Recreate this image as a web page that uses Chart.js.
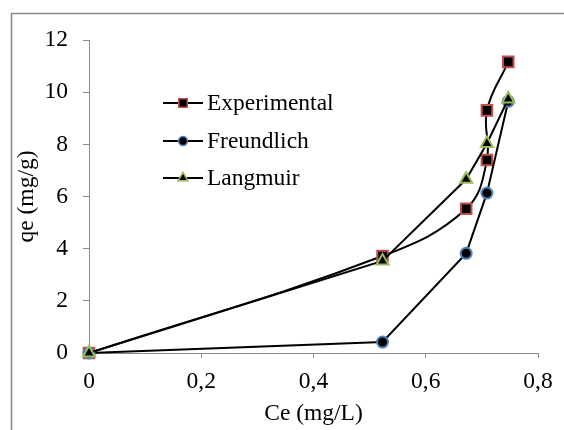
<!DOCTYPE html>
<html>
<head>
<meta charset="utf-8">
<script src="https://cdn.jsdelivr.net/npm/chart.js@4.4.0/dist/chart.umd.min.js"></script>
<style>
  html, body { margin: 0; padding: 0; background: #ffffff; }
  #wrap { width: 564px; height: 430px; position: relative; }
</style>
</head>
<body>
<div id="wrap"><canvas id="c" width="564" height="430"></canvas></div>
<script>
// ---- data ----
const seriesNames = ['Experimental', 'Freundlich', 'Langmuir'];
const expX = [0, 0.523, 0.672, 0.709, 0.709, 0.747];
const expY = [0, 3.72, 5.53, 7.40, 9.30, 11.16];
const freX = [0, 0.523, 0.672, 0.709, 0.747];
const freY = [0, 0.42, 3.82, 6.13, 9.65];
const lanX = [0, 0.523, 0.672, 0.709, 0.747];
const lanY = [0, 3.53, 6.66, 8.03, 9.74];
const xTickValues = [0, 0.2, 0.4, 0.6, 0.8];
const xTickLabels = ['0', '0,2', '0,4', '0,6', '0,8'];
const yTickValues = [0, 2, 4, 6, 8, 10, 12];
const yTickLabels = ['0', '2', '4', '6', '8', '10', '12'];
const xTitle = 'Ce (mg/L)';
const yTitle = 'qe (mg/g)';

const toPts = (xs, ys) => xs.map((x, i) => ({ x: x, y: ys[i] }));

const FONT = 'Liberation Serif, Times New Roman, serif';
const FSIZE = 23.5;
const styles = [
  { border: '#C0504D', pointStyle: 'rect', radius: 7.5, tension: 0.4 },
  { border: '#4F81BD', pointStyle: 'circle', radius: 5.5, tension: 0 },
  { border: '#9BBB59', pointStyle: 'triangle', radius: 7, tension: 0 }
];
const dataSets = [toPts(expX, expY), toPts(freX, freY), toPts(lanX, lanY)];

const frame = {
  id: 'frame',
  beforeDraw(chart) {
    const ctx = chart.ctx;
    ctx.save();
    ctx.fillStyle = '#ffffff';
    ctx.fillRect(0, 0, chart.width, chart.height);
    ctx.strokeStyle = '#888888';
    ctx.lineWidth = 1.5;
    ctx.strokeRect(11.5, 13.5, 700, 600);
    ctx.restore();
  }
};

const customLegend = {
  id: 'customLegend',
  afterDraw(chart) {
    const ctx = chart.ctx;
    ctx.save();
    const x0 = 163, x1 = 203, tx = 207;
    const rows = [103, 141, 178];
    seriesNames.forEach((name, i) => {
      const y = rows[i];
      ctx.strokeStyle = '#000000';
      ctx.lineWidth = 2;
      ctx.beginPath();
      ctx.moveTo(x0, y);
      ctx.lineTo(x1, y);
      ctx.stroke();
      ctx.fillStyle = '#000000';
      ctx.strokeStyle = styles[i].border;
      ctx.lineWidth = 1.5;
      Chart.helpers.drawPoint(ctx, {
        pointStyle: styles[i].pointStyle,
        radius: styles[i].radius * 0.8,
        rotation: 0,
        borderWidth: 1.5
      }, (x0 + x1) / 2, y);
      ctx.fillStyle = '#000000';
      ctx.font = FSIZE + 'px ' + FONT;
      ctx.textAlign = 'left';
      ctx.textBaseline = 'middle';
      ctx.fillText(name, tx, y + 1);
    });
    ctx.restore();
  }
};

new Chart(document.getElementById('c'), {
  type: 'line',
  data: {
    datasets: seriesNames.map((name, i) => ({
      label: name,
      data: dataSets[i],
      borderColor: '#000000',
      borderWidth: 2,
      backgroundColor: '#000000',
      pointStyle: styles[i].pointStyle,
      pointRadius: styles[i].radius,
      pointHoverRadius: styles[i].radius,
      pointBackgroundColor: '#000000',
      pointBorderColor: styles[i].border,
      pointBorderWidth: 2,
      tension: styles[i].tension,
      fill: false,
      clip: false,
      order: 2 - i
    }))
  },
  options: {
    responsive: false,
    animation: false,
    events: [],
    layout: { padding: { left: 0, right: 26, top: 40, bottom: 0 } },
    plugins: {
      legend: { display: false },
      tooltip: { enabled: false }
    },
    scales: {
      x: {
        type: 'linear',
        min: 0,
        max: 0.8,
        afterBuildTicks(scale) { scale.ticks = xTickValues.map(v => ({ value: v })); },
        afterFit(scale) { scale.height = 77; },
        grid: { display: true, drawOnChartArea: false, drawTicks: true, tickLength: 5, color: '#8a8a8a', lineWidth: 1 },
        border: { display: true, color: '#8a8a8a', width: 1 },
        ticks: {
          padding: 10,
          color: '#000000',
          font: { family: FONT, size: FSIZE },
          maxRotation: 0,
          callback: (v, i) => xTickLabels[i]
        },
        title: {
          display: true,
          text: xTitle,
          color: '#000000',
          font: { family: FONT, size: FSIZE },
          padding: { top: 0, bottom: 2 }
        }
      },
      y: {
        type: 'linear',
        min: 0,
        max: 12,
        afterBuildTicks(scale) { scale.ticks = yTickValues.map(v => ({ value: v })); },
        afterFit(scale) { scale.width = 89; },
        grid: { display: true, drawOnChartArea: false, drawTicks: true, tickLength: 6, color: '#8a8a8a', lineWidth: 1 },
        border: { display: true, color: '#8a8a8a', width: 1 },
        ticks: {
          padding: 15,
          color: '#000000',
          font: { family: FONT, size: FSIZE },
          callback: (v, i) => yTickLabels[i]
        },
        title: {
          display: true,
          text: yTitle,
          color: '#000000',
          font: { family: FONT, size: FSIZE },
          padding: { top: 13, bottom: 0 }
        }
      }
    }
  },
  plugins: [frame, customLegend]
});
</script>
</body>
</html>
